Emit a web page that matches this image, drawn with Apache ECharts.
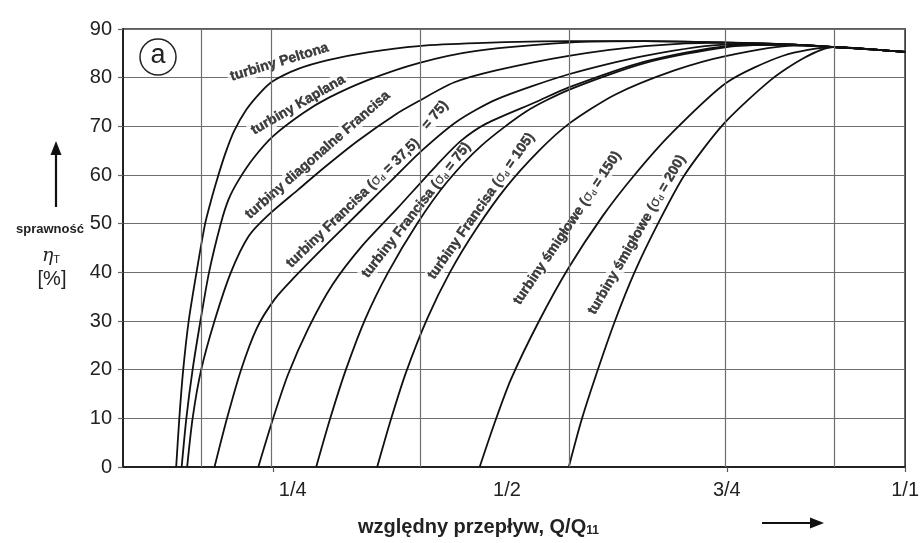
<!DOCTYPE html>
<html><head><meta charset="utf-8">
<script src="https://cdn.jsdelivr.net/npm/echarts@6/dist/echarts.min.js"></script>
<style>html,body{margin:0;padding:0;background:#fff}#c{width:922px;height:543px}</style>
</head><body><div id="c"></div>
<script>
// ---- data (x = relative flow along axis 0..1, y = efficiency %) ----
const peltona = [[0.068,0],[0.072,10],[0.077,20],[0.084,30],[0.094,40],[0.105,50],[0.113,55],[0.122,60],[0.131,64.5],[0.142,69],[0.158,73.5],[0.176,77],[0.192,79.3],[0.224,81.8],[0.262,83.6],[0.313,85.2],[0.378,86.5],[0.452,87.1],[0.570,87.5],[0.667,87.5],[0.772,87.2],[0.857,86.8],[0.908,86.3],[0.958,85.8],[1,85.3]];
const kaplana = [[0.075,0],[0.081,10],[0.089,20],[0.099,30],[0.110,40],[0.125,50],[0.135,55],[0.148,59],[0.167,63.5],[0.192,68],[0.230,72.7],[0.262,75.8],[0.313,79.5],[0.378,83],[0.452,85.5],[0.570,87.2],[0.667,87.5],[0.772,87.2],[0.857,86.8],[0.908,86.3],[0.958,85.8],[1,85.3]];
const diagonalne = [[0.082,0],[0.089,10],[0.100,20],[0.117,30],[0.138,40],[0.161,47.5],[0.186,51.8],[0.224,57],[0.257,61.5],[0.300,67],[0.349,72.5],[0.376,75],[0.423,79],[0.477,81.5],[0.570,84.5],[0.667,86.5],[0.772,87.2],[0.857,86.8],[0.908,86.3],[0.958,85.8],[1,85.3]];
const francisa375 = [[0.117,0],[0.133,10],[0.151,20],[0.171,28.5],[0.194,34.5],[0.218,38.8],[0.262,46],[0.303,52.5],[0.344,59],[0.382,65],[0.427,71],[0.477,75.5],[0.570,80.7],[0.667,84.5],[0.772,86.8],[0.857,86.8],[0.908,86.3],[0.958,85.8],[1,85.3]];
const francisaB = [[0.173,0],[0.192,10],[0.211,19],[0.237,28.5],[0.268,37.5],[0.306,45.5],[0.351,53.2],[0.401,62],[0.432,67],[0.465,70.6],[0.528,75],[0.570,78],[0.667,83.3],[0.772,86.5],[0.857,86.8],[0.908,86.3],[0.958,85.8],[1,85.3]];
const francisa75 = [[0.247,0],[0.265,10],[0.285,20],[0.310,30.5],[0.339,40],[0.376,50],[0.414,58.5],[0.458,66],[0.515,73],[0.570,77.5],[0.667,83],[0.772,86.3],[0.857,86.8],[0.908,86.3],[0.958,85.8],[1,85.3]];
const francisa105 = [[0.325,0],[0.343,10],[0.362,19.5],[0.389,30.5],[0.418,40],[0.452,49],[0.490,57.5],[0.532,65],[0.570,70.5],[0.629,76.5],[0.705,81.5],[0.772,84.5],[0.857,86.6],[0.908,86.3],[0.958,85.8],[1,85.3]];
const smiglowe150 = [[0.456,0],[0.475,9],[0.496,18],[0.532,30],[0.570,41],[0.613,51.5],[0.654,60],[0.701,68.5],[0.772,79],[0.844,84.5],[0.908,86.3],[0.958,85.8],[1,85.3]];
const smiglowe200 = [[0.570,0],[0.586,9.5],[0.604,18.5],[0.629,30],[0.654,40],[0.684,50],[0.718,60],[0.768,70.5],[0.828,79.5],[0.870,84],[0.908,86.3],[0.958,85.8],[1,85.3]];

const curves = [peltona, kaplana, diagonalne, francisa375, francisaB, francisa75, francisa105, smiglowe150, smiglowe200];

const yMin = 0, yMax = 90, yStep = 10;
const xGridLines = [0.0975, 0.1924, 0.3785, 0.5696, 0.7722, 0.9076];
const xTickValues = [0.1924, 0.7722, 1.0];
const xLabelValues = [0.217, 0.491, 0.772, 1.0];
const xLabelTexts = ['1/4', '1/2', '3/4', '1/1'];

// curve captions: anchor in data coordinates + angle
const curveLabels = [
  {text: 'turbiny Peltona', x: 0.200, y: 83.2, rot: 17},
  {text: 'turbiny Kaplana', x: 0.224, y: 74.4, rot: 30},
  {text: 'turbiny diagonalne Francisa', x: 0.249, y: 64.1, rot: 41},
  {text: 'turbiny Francisa ({g|σ}{sub|d} = 37,5)', x: 0.294, y: 54.2, rot: 44},
  {text: '= 75)', x: 0.399, y: 72.3, rot: 50},
  {text: 'turbiny Francisa ({g|σ}{sub|d} = 75)', x: 0.375, y: 52.8, rot: 52},
  {text: 'turbiny Francisa ({g|σ}{sub|d} = 105)', x: 0.458, y: 53.6, rot: 55},
  {text: 'turbiny śmigłowe ({g|σ}{sub|d} = 150)', x: 0.568, y: 49.1, rot: 56},
  {text: 'turbiny śmigłowe ({g|σ}{sub|d} = 200)', x: 0.657, y: 47.7, rot: 60}
];

const FONT = '"Liberation Sans", Arial, sans-serif';
const INK = '#0d0d0d';
const chart = echarts.init(document.getElementById('c'), null, {renderer: 'canvas'});

const series = [];
series.push({
  type: 'line', data: [], silent: true, z: 1,
  markLine: {
    silent: true, symbol: ['none', 'none'], animation: false,
    label: {show: false},
    lineStyle: {color: '#6e6e6e', width: 1.2, type: 'solid'},
    data: xGridLines.map(v => ({xAxis: v}))
  }
});
series.push({
  type: 'scatter', symbolSize: 0, z: 2, silent: true,
  data: curveLabels.map(l => ({value: [l.x, l.y], label: {formatter: l.text, rotate: l.rot}})),
  label: {
    show: true, position: 'inside', color: INK,
    textBorderWidth: 0.4, textBorderColor: INK,
    fontFamily: FONT, fontWeight: 'bold', fontSize: 14,
    backgroundColor: '#fff', padding: [1, 3],
    rich: {
      g: {fontFamily: '"DejaVu Sans", sans-serif', fontSize: 14, fontWeight: 'normal', color: INK, textBorderWidth: 0},
      sub: {fontFamily: FONT, fontSize: 8, fontWeight: 'bold', verticalAlign: 'bottom', color: INK, textBorderWidth: 0}
    }
  }
});
curves.forEach(d => series.push({
  type: 'line', data: d, showSymbol: false, silent: true, z: 3,
  smooth: 0.25,
  lineStyle: {color: '#111', width: 1.8}
}));

chart.setOption({
  animation: false,
  backgroundColor: '#fff',
  textStyle: {fontFamily: FONT},
  grid: {left: 123, right: 9, top: 29, bottom: 76, show: true, borderColor: '#2a2a2a', borderWidth: 1.6, backgroundColor: 'transparent'},
  xAxis: {
    type: 'value', min: 0, max: 1,
    axisLine: {show: true, lineStyle: {color: '#222', width: 2}},
    splitLine: {show: false},
    axisTick: {show: true, length: 5, customValues: xTickValues, lineStyle: {color: '#555', width: 1.2}},
    axisLabel: {
      customValues: xLabelValues, margin: 13, fontSize: 20, color: '#222', fontFamily: FONT,
      formatter: v => {
        const i = xLabelValues.findIndex(t => Math.abs(t - v) < 1e-6);
        return i >= 0 ? xLabelTexts[i] : '';
      }
    }
  },
  yAxis: {
    type: 'value', min: yMin, max: yMax, interval: yStep,
    axisLine: {show: true, lineStyle: {color: '#222', width: 2}},
    axisTick: {show: true, length: 5, lineStyle: {color: '#666', width: 1.2}},
    splitLine: {show: true, lineStyle: {color: '#6e6e6e', width: 1.2}},
    axisLabel: {fontSize: 20, color: '#222', margin: 11, fontFamily: FONT}
  },
  series: series,
  graphic: [
    {type: 'circle', shape: {cx: 158, cy: 57, r: 18}, style: {fill: '#fff', stroke: '#222', lineWidth: 1.5}, z: 10},
    {type: 'text', x: 158, y: 56, z: 11, style: {text: 'a', font: '27px ' + FONT, fill: '#222', align: 'center', verticalAlign: 'middle'}},
    {type: 'line', shape: {x1: 56, y1: 207, x2: 56, y2: 152}, style: {stroke: '#111', lineWidth: 2.2}, z: 10},
    {type: 'polygon', shape: {points: [[56, 141], [50.5, 155], [61.5, 155]]}, style: {fill: '#111'}, z: 10},
    {type: 'text', x: 50, y: 229, z: 10, style: {text: 'sprawność', font: 'bold 13px ' + FONT, fill: '#222', align: 'center', verticalAlign: 'middle'}},
    {type: 'text', x: 51, y: 256, z: 10, style: {
      text: '{e|η}{t|T}', align: 'center', verticalAlign: 'middle', fill: '#222',
      rich: {e: {font: 'italic 19px "DejaVu Serif", serif', fill: '#222'}, t: {font: '11px ' + FONT, fill: '#222', verticalAlign: 'bottom'}}
    }},
    {type: 'text', x: 52, y: 279, z: 10, style: {text: '[%]', font: '20px ' + FONT, fill: '#222', align: 'center', verticalAlign: 'middle'}},
    {type: 'text', x: 358, y: 527, z: 10, style: {
      text: '{m|względny przepływ, Q/Q}{s|11}', align: 'left', verticalAlign: 'middle', fill: '#222',
      rich: {m: {font: 'bold 20px ' + FONT, fill: '#222'}, s: {font: 'bold 12px ' + FONT, fill: '#222', verticalAlign: 'bottom'}}
    }},
    {type: 'line', shape: {x1: 762, y1: 523, x2: 812, y2: 523}, style: {stroke: '#111', lineWidth: 2.2}, z: 10},
    {type: 'polygon', shape: {points: [[824, 523], [810, 517.5], [810, 528.5]]}, style: {fill: '#111'}, z: 10}
  ]
});
</script></body></html>
